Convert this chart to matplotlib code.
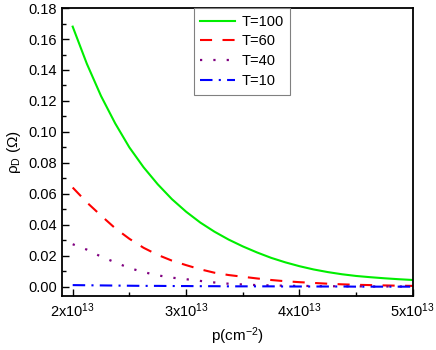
import numpy as np
import matplotlib
matplotlib.use('Agg')
import matplotlib.pyplot as plt
from matplotlib.ticker import MultipleLocator, FixedLocator

plt.rcParams['font.family'] = ['Liberation Sans', 'DejaVu Sans']
plt.rcParams['mathtext.fontset'] = 'custom'
plt.rcParams['mathtext.rm'] = 'Liberation Sans'
plt.rcParams['mathtext.it'] = 'Liberation Sans'

# Data (p in cm^-2, rho_D in Ohm)
p = [2.0e13, 2.125e13, 2.25e13, 2.375e13, 2.5e13, 2.625e13, 2.75e13, 2.875e13,
     3.0e13, 3.125e13, 3.25e13, 3.375e13, 3.5e13, 3.625e13, 3.75e13, 3.875e13,
     4.0e13, 4.125e13, 4.25e13, 4.375e13, 4.5e13, 4.625e13, 4.75e13, 4.875e13,
     5.0e13]
t100 = [0.1680, 0.1440, 0.1232, 0.1055, 0.0900, 0.0772, 0.0662, 0.0566,
        0.0485, 0.0415, 0.0356, 0.0305, 0.0261, 0.0222, 0.0187, 0.0158,
        0.0133, 0.0112, 0.0095, 0.0081, 0.0070, 0.0062, 0.0055, 0.0049,
        0.0044]
t60 = [0.0641, 0.0545, 0.0460, 0.0378, 0.0310, 0.0252, 0.0206, 0.0169,
       0.0140, 0.0113, 0.0091, 0.0076, 0.0065, 0.0054, 0.0044, 0.0036,
       0.0030, 0.0025, 0.0020, 0.0016, 0.0013, 0.0011, 0.0009, 0.0007,
       0.0006]
t40 = [0.0275, 0.0240, 0.0195, 0.0158, 0.0121, 0.0095, 0.0074, 0.0059,
       0.0049, 0.0038, 0.0028, 0.0020, 0.0015, 0.0011, 0.0009, 0.0007,
       0.0006, 0.0005, 0.0004, 0.0003, 0.0003, 0.0002, 0.0002, 0.0002,
       0.0002]
t10 = [0.0011, 0.0010, 0.0009, 0.0008, 0.0007, 0.0006, 0.0006, 0.0005,
       0.0005, 0.0004, 0.0004, 0.0003, 0.0003, 0.0003, 0.0003, 0.0002,
       0.0002, 0.0002, 0.0002, 0.0002, 0.0001, 0.0001, 0.0001, 0.0001,
       0.0001]

xticks = [2e13, 3e13, 4e13, 5e13]
xticklabels = [r'2x10$^{13}$', r'3x10$^{13}$', r'4x10$^{13}$', r'5x10$^{13}$']

fig = plt.figure(figsize=(4.36, 3.5), dpi=100)
ax = fig.add_axes([0.142, 0.154, 0.805, 0.823])

ax.plot(p, t100, color='#00ee00', lw=1.5, label='T=100')
ax.plot(p, t60, color='#ff0000', lw=1.5, dashes=(5.8, 5), label='T=60')
ax.plot(p, t40, color='#800080', lw=1.6, dashes=(1, 5), label='T=40')
ax.plot(p, t10, color='#0000ff', lw=1.5, dashes=(6, 3, 1, 3), label='T=10')

ax.set_xlim(1.905e13, 5e13)
ax.set_ylim(-0.006, 0.18)
ax.xaxis.set_major_locator(FixedLocator(xticks))
ax.set_xticklabels(xticklabels)
ax.xaxis.set_minor_locator(MultipleLocator(0.5e13))
ax.yaxis.set_major_locator(MultipleLocator(0.02))
ax.yaxis.set_minor_locator(MultipleLocator(0.01))
ax.yaxis.set_major_formatter(plt.FormatStrFormatter('%.2f'))

ax.tick_params(which='both', direction='in', labelsize=10.5, top=False, right=False)
ax.tick_params(which='major', length=5, width=1)
ax.tick_params(which='minor', length=3, width=1)
for s in ax.spines.values():
    s.set_linewidth(1.3)

ax.set_xlabel(r'p(cm$^{-2}$)', fontsize=11)
ax.set_ylabel(r'$\rho_D$ ($\Omega$)', fontsize=11)

leg = ax.legend(loc='upper left', bbox_to_anchor=(0.376, 1.0), fontsize=10.5,
                fancybox=False, framealpha=1, edgecolor='#808080',
                handlelength=2.4, handletextpad=0.4, borderpad=0.45,
                labelspacing=0.4, borderaxespad=0)
leg.get_frame().set_linewidth(0.8)

fig.savefig('out.png', dpi=100)
